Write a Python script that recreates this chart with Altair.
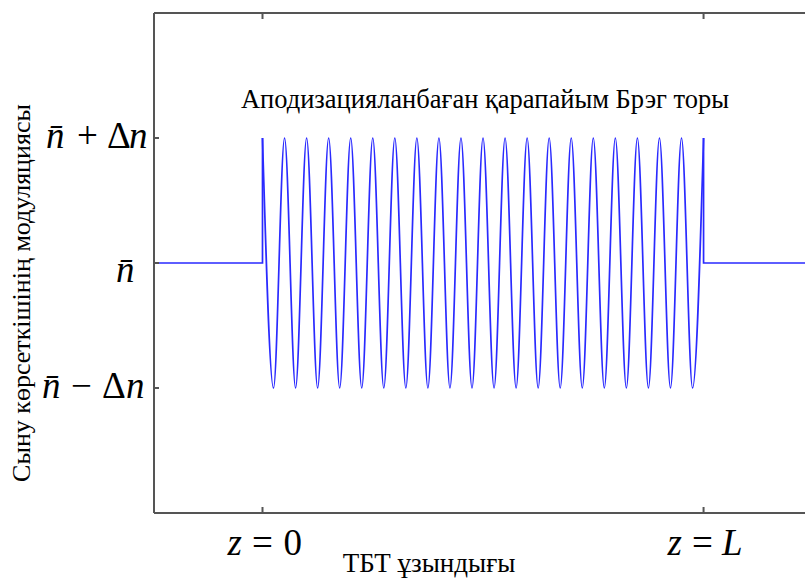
import altair as alt
import pandas as pd

# ---------------- data ----------------
# extrema of the index modulation along the grating (z in grating periods)
wave_z = [0, 0.5, 1, 1.5, 2, 2.5, 3, 3.5, 4, 4.5, 5, 5.5, 6, 6.5, 7, 7.5, 8, 8.5,
          9, 9.5, 10, 10.5, 11, 11.5, 12, 12.5, 13, 13.5, 14, 14.5, 15, 15.5, 16,
          16.5, 17, 17.5, 18, 18.5, 19, 19.5, 20]
wave_n = [1, -1, 1, -1, 1, -1, 1, -1, 1, -1, 1, -1, 1, -1, 1, -1, 1, -1, 1, -1,
          1, -1, 1, -1, 1, -1, 1, -1, 1, -1, 1, -1, 1, -1, 1, -1, 1, -1, 1, -1, 1]
# flat parts outside the grating (n = n̄) and the jumps at z=0, z=L
flat_left_z = [-4.92, 0, 0]
flat_left_n = [0, 0, 1]
flat_right_z = [20, 20, 24.6]
flat_right_n = [1, 0, 0]

x_tick_vals = [0, 20]          # z = 0, z = L
y_tick_vals = [1, 0, -1]       # n̄+Δn, n̄, n̄−Δn

title_text = "Аподизацияланбаған қарапайым Брэг торы"
x_title = "ТБТ ұзындығы"
y_title = "Сыну көрсеткішінің модуляциясы"

# ---------------- layout ----------------
X0, Y0 = 154, 13          # plot origin in the page
W, H = 651, 500
X_DOMAIN = [-4.92, 24.6]
Y_DOMAIN = [-2, 2]
SERIF = "Liberation Serif"
AXC = "#555555"
LINE_C = "#2a2aff"
FS = 37

xs = alt.Scale(domain=X_DOMAIN, nice=False, zero=False)
ys = alt.Scale(domain=Y_DOMAIN, nice=False, zero=False)

wave_df = pd.DataFrame({"z": wave_z, "n": wave_n})
flat_df = pd.DataFrame({
    "z": flat_left_z + flat_right_z,
    "n": flat_left_n + flat_right_n,
    "seg": ["left"] * len(flat_left_z) + ["right"] * len(flat_right_z),
    "o": list(range(len(flat_left_z))) + list(range(len(flat_right_z))),
})
one = pd.DataFrame({"a": [0]})

wave = alt.Chart(wave_df).mark_line(
    color=LINE_C, strokeWidth=1.7, interpolate="monotone", clip=True
).encode(
    x=alt.X("z:Q", scale=xs, axis=None),
    y=alt.Y("n:Q", scale=ys, axis=None),
)
flat = alt.Chart(flat_df).mark_line(color=LINE_C, strokeWidth=1.7, clip=True).encode(
    x=alt.X("z:Q", scale=xs, axis=None),
    y=alt.Y("n:Q", scale=ys, axis=None),
    detail="seg:N",
    order="o:Q",
)

# frame (left, bottom, top; right side lies beyond the picture)
frame = [
    alt.Chart(one).mark_rule(color=AXC, strokeWidth=2).encode(
        x=alt.value(0), y=alt.value(0), y2=alt.value(H)),
    alt.Chart(one).mark_rule(color=AXC, strokeWidth=2).encode(
        x=alt.value(0), x2=alt.value(W), y=alt.value(H)),
    alt.Chart(one).mark_rule(color=AXC, strokeWidth=2).encode(
        x=alt.value(0), x2=alt.value(W), y=alt.value(0)),
]

xt_df = pd.DataFrame({"z": x_tick_vals})
yt_df = pd.DataFrame({"n": y_tick_vals})
ticks = [
    alt.Chart(xt_df).mark_rule(color=AXC, strokeWidth=2).encode(
        x=alt.X("z:Q", scale=xs, axis=None), y=alt.value(H), y2=alt.value(H - 6)),
    alt.Chart(xt_df).mark_rule(color=AXC, strokeWidth=2).encode(
        x=alt.X("z:Q", scale=xs, axis=None), y=alt.value(0), y2=alt.value(6)),
    alt.Chart(yt_df).mark_rule(color=AXC, strokeWidth=2).encode(
        y=alt.Y("n:Q", scale=ys, axis=None), x=alt.value(0), x2=alt.value(5)),
]


def ylabel_piece(val, text, left_abs, italic, dy):
    return alt.Chart(pd.DataFrame({"n": [val]})).mark_text(
        text=text, font=SERIF, fontSize=FS, fontStyle="italic" if italic else "normal",
        align="left", baseline="alphabetic", dy=dy, color="black",
    ).encode(y=alt.Y("n:Q", scale=ys, axis=None), x=alt.value(left_abs - X0))


def xlabel_piece(val, text, dx, italic):
    return alt.Chart(pd.DataFrame({"z": [val]})).mark_text(
        text=text, font=SERIF, fontSize=FS, fontStyle="italic" if italic else "normal",
        align="left", baseline="alphabetic", dx=dx, color="black",
    ).encode(x=alt.X("z:Q", scale=xs, axis=None), y=alt.value(555 - Y0))


labels = [
    # n̄ + Δn
    ylabel_piece(1, "n\u0304", 46, True, 10),
    ylabel_piece(1, "+", 77, False, 10),
    ylabel_piece(1, "Δ", 107, False, 10),
    ylabel_piece(1, "n", 129, True, 10),
    # n̄
    ylabel_piece(0, "n\u0304", 116, True, 19),
    # n̄ − Δn
    ylabel_piece(-1, "n\u0304", 42, True, 10),
    ylabel_piece(-1, "−", 71, False, 10),
    ylabel_piece(-1, "Δ", 102, False, 10),
    ylabel_piece(-1, "n", 126, True, 10),
    # z = 0
    xlabel_piece(0, "z", -35, True),
    xlabel_piece(0, "=", -10.5, False),
    xlabel_piece(0, "0", 21, False),
    # z = L
    xlabel_piece(20, "z", -36, True),
    xlabel_piece(20, "=", -11.5, False),
    xlabel_piece(20, "L", 18.5, True),
]

texts = [
    alt.Chart(one).mark_text(
        text=title_text, font=SERIF, fontSize=26.5, align="center",
        baseline="alphabetic", color="black",
    ).encode(x=alt.value(485 - X0), y=alt.value(108 - Y0)),
    alt.Chart(one).mark_text(
        text=x_title, font=SERIF, fontSize=27, align="center",
        baseline="alphabetic", color="black",
    ).encode(x=alt.value(429 - X0), y=alt.value(572 - Y0)),
    alt.Chart(one).mark_text(
        text=y_title, font=SERIF, fontSize=26, align="center",
        baseline="middle", angle=270, color="black",
    ).encode(x=alt.value(22 - X0), y=alt.value(293 - Y0)),
]

chart = alt.layer(
    flat, wave, *frame, *ticks, *labels, *texts
).properties(
    width=W, height=H,
    padding={"left": X0, "top": Y0, "right": 0, "bottom": 578 - Y0 - H},
    autosize=alt.AutoSizeParams(type="none"),
    background="white",
).configure_view(stroke=None)

chart.save("out.html", embed_options={"renderer": "svg", "actions": False})
